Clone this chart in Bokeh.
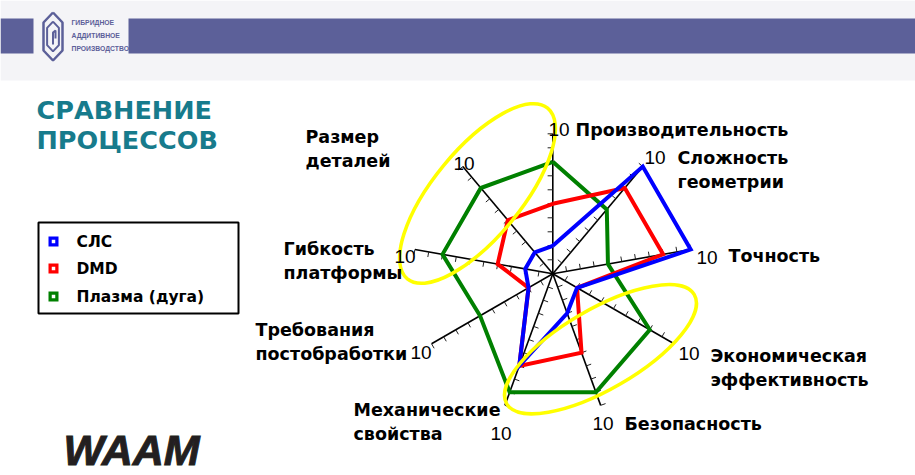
import numpy as np
from bokeh.plotting import figure
from bokeh.models import Range1d
from bokeh.core.properties import value
from bokeh.embed import file_html
from bokeh.resources import INLINE

# ---------------- data ----------------
categories = ["Производительность", "Сложность геометрии", "Точность",
              "Экономическая эффективность", "Безопасность", "Механические свойства",
              "Требования постобработки", "Гибкость платформы", "Размер деталей"]
slm = [2, 10, 10, 2, 3, 7, 2, 2, 2]
dmd = [5, 8, 8, 2, 6, 7, 2, 4, 5]
plasma = [8, 6, 4, 8, 9, 9, 6, 8, 8]
series_names = ["СЛС", "DMD", "Плазма (дуга)"]
series_values = [slm, dmd, plasma]
series_colors = ["#0000ff", "#ff0000", "#008000"]
axis_max = 10
tick_values = list(range(1, 11))
title_lines = ["СРАВНЕНИЕ", "ПРОЦЕССОВ"]
brand_lines = ["ГИБРИДНОЕ", "АДДИТИВНОЕ", "ПРОИЗВОДСТВО"]

# ---------------- layout (pixels) ----------------
W, H = 915, 475
CX, CY = 552.3, 273.3      # radar centre in page pixels
PX = 14.0                  # pixels per value unit
FONT = value("DejaVu Sans")
NUMFONT = value("Liberation Sans")


def dx(x):
    return (x - CX) / PX


def dy(y):
    return (CY - y) / PX


p = figure(width=W, height=H, x_range=Range1d(dx(0), dx(W)), y_range=Range1d(dy(H), dy(0)),
           output_backend="svg", toolbar_location=None, min_border=0)
p.axis.visible = False
p.grid.visible = False
p.outline_line_color = None
p.background_fill_color = "white"
p.border_fill_color = "white"

# background band and header
p.quad(left=[dx(0)], right=[dx(W)], top=[dy(0)], bottom=[dy(80)], fill_color="#f4f4f7", line_color=None)
p.quad(left=[dx(0), dx(128)], right=[dx(33), dx(W)], top=[dy(18), dy(18)], bottom=[dy(53), dy(53)],
       fill_color="#5c6099", line_color=None)

# logo icon (nested hexagons)
for s, lw in [(1.0, 2.5), (0.62, 2.0)]:
    hx = np.array([52.5, 62, 62, 52.5, 43, 43, 52.5])
    hy = np.array([12, 22, 50, 60, 50, 22, 12])
    hx = 52.5 + (hx - 52.5) * s
    hy = 36 + (hy - 36) * s
    p.line(dx(hx), dy(hy), line_color="#5c6099", line_width=lw)
p.line(dx(np.array([52.5, 52.5, 55, 55])), dy(np.array([44, 32, 30, 38])), line_color="#5c6099", line_width=2)
for i, t in enumerate(brand_lines):
    p.text(x=[dx(71)], y=[dy(22 + 13 * i)], text=[t], text_font=NUMFONT, text_font_style="bold",
           text_font_size="6.8px", text_color="#5c6099", text_baseline="middle", text_align="left")

# title
for i, t in enumerate(title_lines):
    p.text(x=[dx(36)], y=[dy(109 + 30 * i)], text=[t], text_font=FONT, text_font_style="bold",
           text_font_size="25.5px", text_color="#177b8c", text_baseline="middle", text_align="left")

# WAAM logo
p.text(x=[dx(63)], y=[dy(449)], text=["WAAM"], text_font=NUMFONT, text_font_style="bold italic",
       text_font_size="43px", text_color="#231f20", text_outline_color="#231f20",
       text_baseline="middle", text_align="left")

# legend
p.quad(left=[dx(38)], right=[dx(238)], top=[dy(222)], bottom=[dy(313)], fill_color="white",
       line_color="black", line_width=2)
leg_y = [241, 268, 296]
p.scatter(x=[dx(53)] * 3, y=[dy(v) for v in leg_y], marker="square", size=10,
          fill_color=series_colors, line_color=None)
p.scatter(x=[dx(53)] * 3, y=[dy(v) for v in leg_y], marker="square", size=3.5,
          fill_color="white", line_color=None)
p.text(x=[dx(76)] * 3, y=[dy(v) for v in leg_y], text=series_names, text_font=FONT,
       text_font_style="bold", text_font_size="15.5px", text_color="black",
       text_baseline="middle", text_align="left")

# radar geometry
n = len(categories)
theta = np.deg2rad(90 - 360.0 / n * np.arange(n))
cos_t, sin_t = np.cos(theta), np.sin(theta)

# axes
p.segment(x0=[0] * n, y0=[0] * n, x1=list(axis_max * cos_t), y1=list(axis_max * sin_t),
          line_color="black", line_width=1.6)
# ticks on the counter-clockwise side of each axis
tl = 0.37
tx0, ty0, tx1, ty1 = [], [], [], []
for k in range(n):
    for t in tick_values:
        x0, y0 = t * cos_t[k], t * sin_t[k]
        tx0.append(x0); ty0.append(y0)
        tx1.append(x0 - tl * sin_t[k]); ty1.append(y0 + tl * cos_t[k])
p.segment(x0=tx0, y0=ty0, x1=tx1, y1=ty1, line_color="#222222", line_width=1)

# series polygons (green, red, blue order so blue is on top)
for vals, col in list(zip(series_values, series_colors))[::-1]:
    v = np.array(vals + vals[:1], dtype=float)
    xs = v * np.append(cos_t, cos_t[0])
    ys = v * np.append(sin_t, sin_t[0])
    p.line(xs, ys, line_color=col, line_width=4, line_join="miter")

# highlight ellipses
p.ellipse(x=[dx(477), dx(600)], y=[dy(193), dy(348.7)], width=[221 / PX, 217 / PX],
          height=[88 / PX, 80 / PX], angle=[np.deg2rad(50.6), np.deg2rad(30.2)],
          fill_color=None, line_color="#ffff00", line_width=3.5)

# axis labels: "10" and category names (positions in page pixels)
ten_pos = [(548, 129), (644, 157), (696, 257), (678, 353), (592, 423), (490, 433), (410, 352),
           (394, 256), (453, 163)]
name_pos = [(575, 129), (677, 157), (728, 255), (710, 355), (624, 423), (353, 409), (255, 329),
            (283, 248), (305, 136)]
for (tx, ty) in ten_pos:
    p.text(x=[dx(tx)], y=[dy(ty)], text=[str(axis_max)], text_font=NUMFONT, text_font_size="19px",
           text_color="black", text_baseline="middle", text_align="left")
for cat, (nx, ny) in zip(categories, name_pos):
    for j, line in enumerate(cat.split(" ")):
        p.text(x=[dx(nx)], y=[dy(ny + 24.5 * j)], text=[line], text_font=FONT,
               text_font_style="bold", text_font_size="17.5px", text_color="black",
               text_baseline="middle", text_align="left")

open("out.html", "w").write(file_html(p, INLINE))
